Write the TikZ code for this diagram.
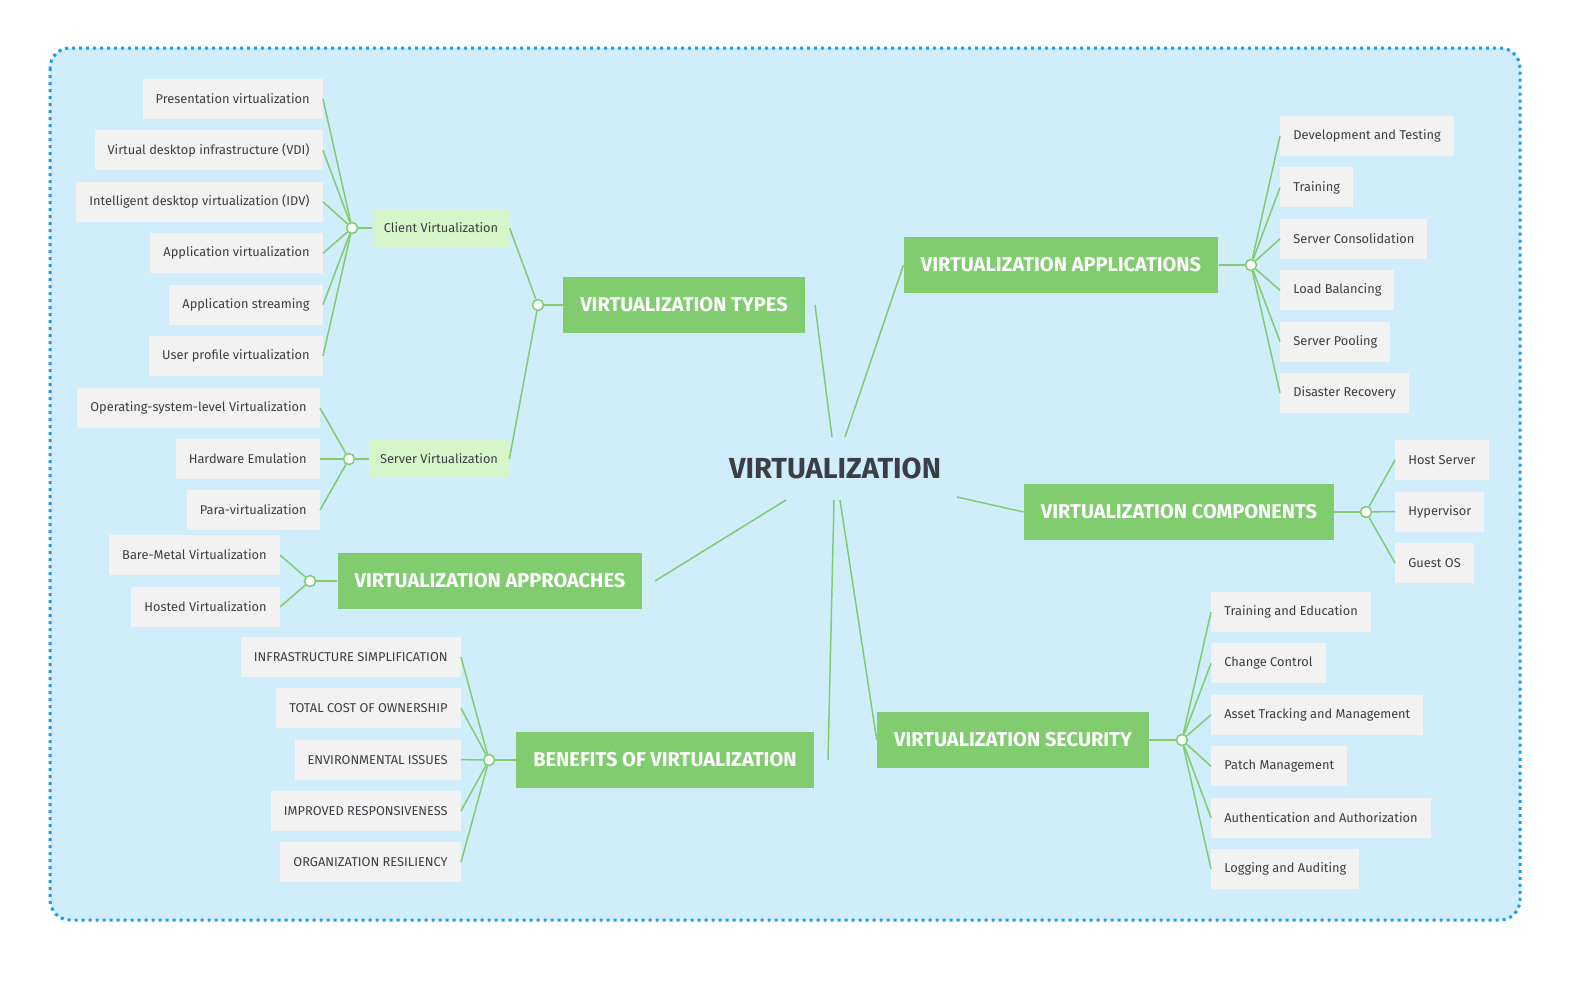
\documentclass[tikz,border=0pt]{standalone}
\usepackage{fontspec}
\setmainfont{Fira Sans}
\definecolor{bgblue}{HTML}{CFEDFB}
\definecolor{dotblue}{HTML}{1B9CF2}
\definecolor{mmgreen}{HTML}{80CC6E}
\definecolor{subgreen}{HTML}{D6F6C9}
\definecolor{leafgray}{HTML}{F2F2F2}
\definecolor{txtgray}{HTML}{3A3F44}
\tikzset{
  link/.style={draw=mmgreen, line width=0.75pt},
  junction/.style={circle, draw=mmgreen, fill=white, line width=0.75pt, inner sep=0pt, minimum size=5.5pt},
  branch/.style={fill=mmgreen, text=white, font=\fontsize{10}{12}\selectfont\bfseries, inner xsep=8.5pt, minimum height=28pt},
  sub/.style={fill=subgreen, text=txtgray, font=\fontsize{6.4}{7.5}\selectfont, inner xsep=5.5pt, minimum height=19pt},
  leaf/.style={fill=leafgray, text=txtgray, font=\fontsize{6.4}{7.5}\selectfont, inner xsep=6.5pt, minimum height=20pt},
}
\begin{document}
\begin{tikzpicture}[x=0.5pt,y=-0.5pt]

    % Frame and background
    \useasboundingbox (0,0) rectangle (1585,980);
    \draw[dotblue, fill=bgblue, line width=1.5pt, dotted, rounded corners=10pt] (50,48) rectangle (1520,920);

    % Centre topic
    \node[text=txtgray, font=\fontsize{14.5}{16}\selectfont\bfseries] (root) at (835,468) {VIRTUALIZATION};

    % Main branches
    \node[branch] (types) at (684,305) {VIRTUALIZATION TYPES};
    \node[branch] (apps) at (1061,265) {VIRTUALIZATION APPLICATIONS};
    \node[branch] (comps) at (1179,512) {VIRTUALIZATION COMPONENTS};
    \node[branch] (sec) at (1013,740) {VIRTUALIZATION SECURITY};
    \node[branch] (bene) at (665,760) {BENEFITS OF VIRTUALIZATION};
    \node[branch] (appr) at (490,581) {VIRTUALIZATION APPROACHES};

    % Centre to branches
    \coordinate (r1) at (832,437);
    \coordinate (r2) at (845,437);
    \coordinate (r3) at (957,497);
    \coordinate (r4) at (840,500);
    \coordinate (r5) at (834,500);
    \coordinate (r6) at (786,500);
    \draw[link] (r1) -- (815,305) coordinate (t1);
    \draw[link] (r2) -- (apps.west);
    \draw[link] (r3) -- (comps.west);
    \draw[link] (r4) -- (sec.west);
    \draw[link] (r5) -- (828,760) coordinate (b1);
    \draw[link] (r6) -- (655,581) coordinate (a1);

    % Types: sub topics
    \node[sub] (client) at (441,228) {Client Virtualization};
    \node[sub] (server) at (439,459) {Server Virtualization};
    \node[junction] (jt) at (538,305) {};
    \draw[link] (types.west) -- (jt);
    \draw[link] (jt) -- (client.east);
    \draw[link] (jt) -- (server.east);

    % Client virtualization leaves
    \node[junction] (jc) at (352,228) {};
    \draw[link] (client.west) -- (jc);
    \foreach \t [count=\i] in {Presentation virtualization, Virtual desktop infrastructure (VDI),
        Intelligent desktop virtualization (IDV), Application virtualization,
        Application streaming, User profile virtualization} {
        \node[leaf, anchor=east] (c\i) at (323,{99+51.4*(\i-1)}) {\t};
        \draw[link] (jc) -- (c\i.east);
    }

    % Server virtualization leaves
    \node[junction] (js) at (349,459) {};
    \draw[link] (server.west) -- (js);
    \foreach \t [count=\i] in {Operating-system-level Virtualization, Hardware Emulation, Para-virtualization} {
        \node[leaf, anchor=east] (s\i) at (320,{408+51*(\i-1)}) {\t};
        \draw[link] (js) -- (s\i.east);
    }

    % Approaches leaves
    \node[junction] (ja) at (310,581) {};
    \draw[link] (appr.west) -- (ja);
    \foreach \t [count=\i] in {Bare-Metal Virtualization, Hosted Virtualization} {
        \node[leaf, anchor=east] (p\i) at (280,{555+52*(\i-1)}) {\t};
        \draw[link] (ja) -- (p\i.east);
    }

    % Benefits leaves
    \node[junction] (jb) at (489,760) {};
    \draw[link] (bene.west) -- (jb);
    \foreach \t [count=\i] in {INFRASTRUCTURE SIMPLIFICATION, TOTAL COST OF OWNERSHIP,
        ENVIRONMENTAL ISSUES, IMPROVED RESPONSIVENESS, ORGANIZATION RESILIENCY} {
        \node[leaf, anchor=east] (e\i) at (461,{657+51.3*(\i-1)}) {\t};
        \draw[link] (jb) -- (e\i.east);
    }

    % Applications leaves
    \node[junction] (jp) at (1251,265) {};
    \draw[link] (apps.east) -- (jp);
    \foreach \t [count=\i] in {Development and Testing, Training, Server Consolidation,
        Load Balancing, Server Pooling, Disaster Recovery} {
        \node[leaf, anchor=west] (a\i) at (1280,{136+51.4*(\i-1)}) {\t};
        \draw[link] (jp) -- (a\i.west);
    }

    % Components leaves
    \node[junction] (jm) at (1366,512) {};
    \draw[link] (comps.east) -- (jm);
    \foreach \t [count=\i] in {Host Server, Hypervisor, Guest OS} {
        \node[leaf, anchor=west] (m\i) at (1395,{460+51.5*(\i-1)}) {\t};
        \draw[link] (jm) -- (m\i.west);
    }

    % Security leaves
    \node[junction] (jx) at (1182,740) {};
    \draw[link] (sec.east) -- (jx);
    \foreach \t [count=\i] in {Training and Education, Change Control, Asset Tracking and Management,
        Patch Management, Authentication and Authorization, Logging and Auditing} {
        \node[leaf, anchor=west] (x\i) at (1211,{612+51.4*(\i-1)}) {\t};
        \draw[link] (jx) -- (x\i.west);
    }

\end{tikzpicture}
\end{document}
